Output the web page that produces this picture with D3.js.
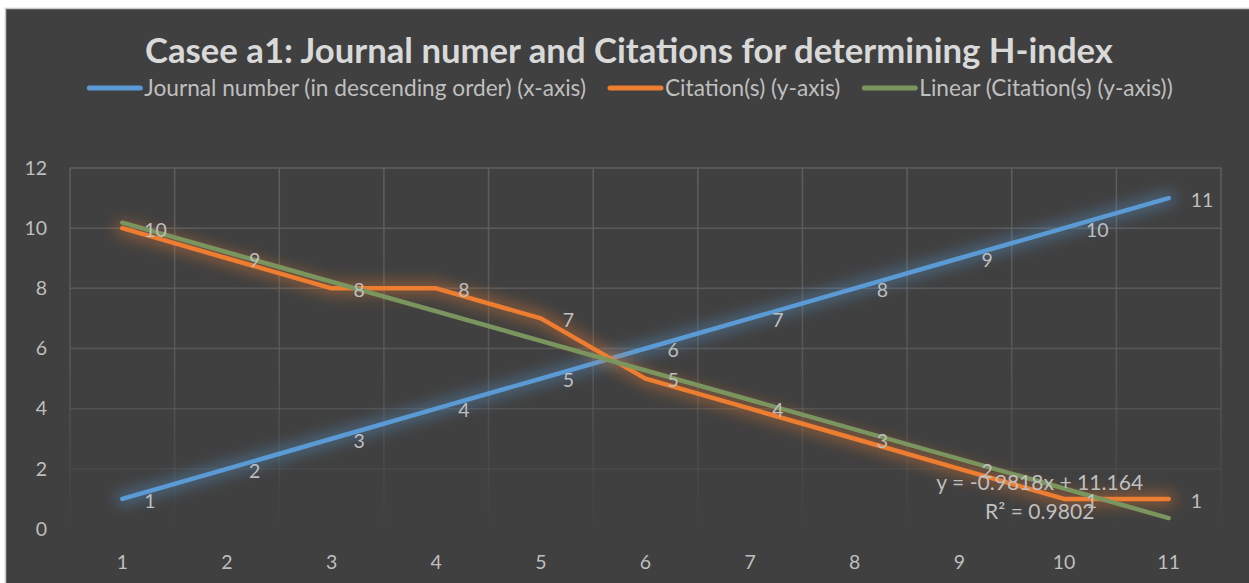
<!DOCTYPE html>
<html>
<head>
<meta charset="utf-8">
<script src="https://cdn.jsdelivr.net/npm/d3@7"></script>
<style>
  body { margin: 0; background: #ffffff; }
  svg { display: block; font-family: Lato, "Open Sans", sans-serif; }
</style>
</head>
<body>
<div id="chart"></div>
<script>
// data
var categories = [1, 2, 3, 4, 5, 6, 7, 8, 9, 10, 11];
var journalNumber = [1, 2, 3, 4, 5, 6, 7, 8, 9, 10, 11];
var citations = [10, 9, 8, 8, 7, 5, 4, 3, 2, 1, 1];
var trendSlope = -0.9818, trendIntercept = 11.164, trendR2 = 0.9802;
var yTicks = [0, 2, 4, 6, 8, 10, 12];
var seriesNames = ["Journal number (in descending order) (x-axis)", "Citation(s) (y-axis)", "Linear (Citation(s) (y-axis))"];
var titleText = "Casee a1: Journal numer and Citations for determining H-index";

var W = 1249, H = 583;
var colors = ["#5b9bd5", "#ed7d31", "#7b955f"];
var textColor = "#bfbfbf";

var svg = d3.select("#chart").append("svg")
    .attr("width", W)
    .attr("height", H);

var defs = svg.append("defs");
defs.append("filter")
    .attr("id", "glow")
    .attr("filterUnits", "userSpaceOnUse")
    .attr("x", 0).attr("y", 0).attr("width", W).attr("height", H)
  .append("feGaussianBlur")
    .attr("stdDeviation", 7);

// gridlines fade out towards the bottom
var grad = defs.append("linearGradient")
    .attr("id", "gridFade")
    .attr("gradientUnits", "userSpaceOnUse")
    .attr("x1", 0).attr("x2", 0).attr("y1", 168).attr("y2", 529);
grad.append("stop").attr("offset", 0).attr("stop-color", "#5e5e5e").attr("stop-opacity", 1);
grad.append("stop").attr("offset", 0.55).attr("stop-color", "#5e5e5e").attr("stop-opacity", 0.75);
grad.append("stop").attr("offset", 1).attr("stop-color", "#5e5e5e").attr("stop-opacity", 0);

// chart area background
svg.append("rect")
    .attr("x", 5.5).attr("y", 8.5)
    .attr("width", W).attr("height", H)
    .attr("fill", "#404040")
    .attr("stroke", "#c8c8c8")
    .attr("stroke-width", 1.5);

// scale a text element so it spans a given width
function fitText(sel, target) {
  var w = sel.node().getComputedTextLength();
  var fs = parseFloat(sel.attr("font-size"));
  sel.attr("font-size", fs * target / w);
  return fs * target / w;
}

var title = svg.append("text")
    .attr("x", 629).attr("y", 63)
    .attr("text-anchor", "middle")
    .attr("font-size", 29)
    .attr("font-weight", "bold")
    .attr("fill", "#d9d9d9")
    .text(titleText);
fitText(title, 968);

// legend: size the font from the first entry, lay out in a row, then center it
var legend = svg.append("g");
var probe = legend.append("text").attr("font-size", 19).text(seriesNames[0]);
var legendFont = fitText(probe, 442);
probe.remove();
var lx = 0;
seriesNames.forEach(function(name, i) {
  var g = legend.append("g");
  g.append("line")
      .attr("x1", lx + 2).attr("x2", lx + 53)
      .attr("y1", 88).attr("y2", 88)
      .attr("stroke", colors[i])
      .attr("stroke-width", 5)
      .attr("stroke-linecap", "round");
  var t = g.append("text")
      .attr("x", lx + 57).attr("y", 88)
      .attr("dy", "0.35em")
      .attr("font-size", legendFont)
      .attr("fill", textColor)
      .text(name);
  lx += 57 + t.node().getComputedTextLength() + 22;
});
legend.attr("transform", "translate(" + (630 - (lx - 22) / 2) + ",0)");

var margin = {left: 70, right: 28, top: 168, bottom: 54};
var x = d3.scaleBand()
    .domain(categories)
    .range([margin.left, W - margin.right]);
var y = d3.scaleLinear()
    .domain([0, 12])
    .range([H - margin.bottom, margin.top]);
var cx = function(c) { return x(c) + x.bandwidth() / 2; };

// gridlines
var grid = svg.append("g");
grid.selectAll(".hgrid")
    .data(yTicks.filter(function(d) { return d > 0; }))
  .enter().append("line")
    .attr("x1", margin.left).attr("x2", W - margin.right)
    .attr("y1", function(d) { return y(d); })
    .attr("y2", function(d) { return y(d); })
    .attr("stroke", "url(#gridFade)")
    .attr("stroke-width", 1.5);
var edges = categories.map(function(c) { return x(c); }).concat([x(categories[categories.length - 1]) + x.bandwidth()]);
grid.selectAll(".vgrid")
    .data(edges)
  .enter().append("line")
    .attr("x1", function(d) { return d; })
    .attr("x2", function(d) { return d; })
    .attr("y1", y(12)).attr("y2", y(0))
    .attr("stroke", "url(#gridFade)")
    .attr("stroke-width", 1.5);

// axes
var yAxis = svg.append("g")
    .attr("transform", "translate(" + (margin.left - 15) + ",0)")
    .call(d3.axisLeft(y).tickValues(yTicks).tickSize(0).tickPadding(8));
var xAxis = svg.append("g")
    .attr("transform", "translate(0," + y(0) + ")")
    .call(d3.axisBottom(x).tickSize(0).tickPadding(26));
[xAxis, yAxis].forEach(function(a) {
  a.select(".domain").remove();
  a.selectAll("text")
      .attr("fill", textColor)
      .attr("font-size", 19.5)
      .attr("font-family", "Lato, 'Open Sans', sans-serif");
});

var line = d3.line()
    .x(function(d) { return cx(d.c); })
    .y(function(d) { return y(d.v); });

var blueData = categories.map(function(c, i) { return {c: c, v: journalNumber[i]}; });
var orangeData = categories.map(function(c, i) { return {c: c, v: citations[i]}; });
var first = categories[0], last = categories[categories.length - 1];
var trendData = [
  {c: first, v: trendSlope * first + trendIntercept},
  {c: last, v: trendSlope * last + trendIntercept}
];

function drawSeries(data, color, glow) {
  if (glow) {
    svg.append("path")
        .datum(data)
        .attr("d", line)
        .attr("fill", "none")
        .attr("stroke", color)
        .attr("stroke-width", 14)
        .attr("stroke-opacity", 0.4)
        .attr("stroke-linejoin", "round")
        .attr("stroke-linecap", "round")
        .attr("filter", "url(#glow)");
  }
  svg.append("path")
      .datum(data)
      .attr("d", line)
      .attr("fill", "none")
      .attr("stroke", color)
      .attr("stroke-width", 4.5)
      .attr("stroke-linejoin", "round")
      .attr("stroke-linecap", "round");
}

drawSeries(blueData, colors[0], true);
drawSeries(orangeData, colors[1], true);
drawSeries(trendData, colors[2], false);

// data labels to the right of each point
function drawLabels(data) {
  svg.append("g").selectAll("text")
      .data(data)
    .enter().append("text")
      .attr("x", function(d) { return cx(d.c) + 22; })
      .attr("y", function(d) { return y(d.v) + 2; })
      .attr("dy", "0.35em")
      .attr("font-size", 19.5)
      .attr("fill", textColor)
      .text(function(d) { return d.v; });
}
drawLabels(blueData);
drawLabels(orangeData);

// trendline equation
var eqX = x(10) + 28;
var eq1 = svg.append("text")
    .attr("x", eqX).attr("y", y(1.55))
    .attr("text-anchor", "middle")
    .attr("dy", "0.35em")
    .attr("font-size", 19.5)
    .attr("fill", textColor)
    .text("y = " + trendSlope + "x + " + trendIntercept);
var eqFont = fitText(eq1, 207);
svg.append("text")
    .attr("x", eqX).attr("y", y(0.58))
    .attr("text-anchor", "middle")
    .attr("dy", "0.35em")
    .attr("font-size", eqFont)
    .attr("fill", textColor)
    .text("R\u00b2 = " + trendR2);
</script>
</body>
</html>
